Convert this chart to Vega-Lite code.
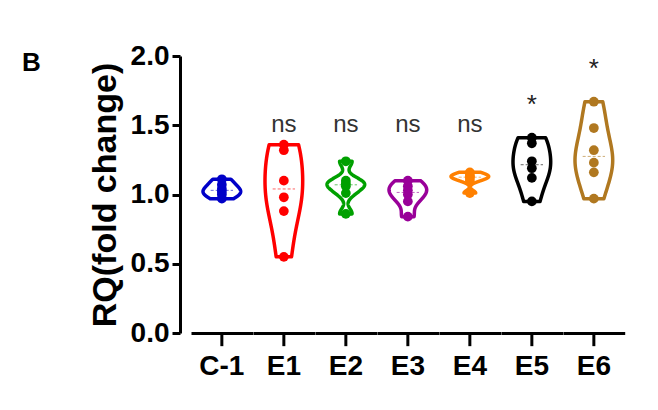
{
  "$schema": "https://vega.github.io/schema/vega-lite/v6.json",
  "background": "white",
  "padding": {"left": 22, "top": 42, "right": 5, "bottom": 5},
  "title": {"text": "B", "anchor": "start", "frame": "bounds", "font": "Liberation Sans", "fontSize": 26, "fontWeight": "bold", "color": "black", "dx": -66, "dy": 38},
  "data": {"values": [
    {"group": "C-1", "value": 1.11, "sig": ""},
    {"group": "C-1", "value": 1.07, "sig": ""},
    {"group": "C-1", "value": 1.04, "sig": ""},
    {"group": "C-1", "value": 1.02, "sig": ""},
    {"group": "C-1", "value": 1.00, "sig": ""},
    {"group": "C-1", "value": 0.97, "sig": ""},
    {"group": "E1", "value": 1.36, "sig": "ns"},
    {"group": "E1", "value": 1.32, "sig": "ns"},
    {"group": "E1", "value": 1.10, "sig": "ns"},
    {"group": "E1", "value": 0.98, "sig": "ns"},
    {"group": "E1", "value": 0.88, "sig": "ns"},
    {"group": "E1", "value": 0.55, "sig": "ns"},
    {"group": "E2", "value": 1.24, "sig": "ns"},
    {"group": "E2", "value": 1.10, "sig": "ns"},
    {"group": "E2", "value": 1.08, "sig": "ns"},
    {"group": "E2", "value": 1.06, "sig": "ns"},
    {"group": "E2", "value": 1.01, "sig": "ns"},
    {"group": "E2", "value": 0.86, "sig": "ns"},
    {"group": "E3", "value": 1.10, "sig": "ns"},
    {"group": "E3", "value": 1.06, "sig": "ns"},
    {"group": "E3", "value": 1.03, "sig": "ns"},
    {"group": "E3", "value": 1.00, "sig": "ns"},
    {"group": "E3", "value": 0.95, "sig": "ns"},
    {"group": "E3", "value": 0.84, "sig": "ns"},
    {"group": "E4", "value": 1.16, "sig": "ns"},
    {"group": "E4", "value": 1.14, "sig": "ns"},
    {"group": "E4", "value": 1.13, "sig": "ns"},
    {"group": "E4", "value": 1.12, "sig": "ns"},
    {"group": "E4", "value": 1.10, "sig": "ns"},
    {"group": "E4", "value": 1.01, "sig": "ns"},
    {"group": "E5", "value": 1.41, "sig": "*"},
    {"group": "E5", "value": 1.37, "sig": "*"},
    {"group": "E5", "value": 1.24, "sig": "*"},
    {"group": "E5", "value": 1.19, "sig": "*"},
    {"group": "E5", "value": 1.12, "sig": "*"},
    {"group": "E5", "value": 0.95, "sig": "*"},
    {"group": "E6", "value": 1.67, "sig": "*"},
    {"group": "E6", "value": 1.48, "sig": "*"},
    {"group": "E6", "value": 1.32, "sig": "*"},
    {"group": "E6", "value": 1.23, "sig": "*"},
    {"group": "E6", "value": 1.16, "sig": "*"},
    {"group": "E6", "value": 0.97, "sig": "*"}
  ]},
  "facet": {
    "column": {
      "field": "group", "type": "nominal",
      "sort": ["C-1", "E1", "E2", "E3", "E4", "E5", "E6"],
      "header": {"title": null, "labelOrient": "bottom", "labelFont": "Liberation Sans", "labelFontSize": 28, "labelFontWeight": "bold", "labelColor": "black", "labelPadding": 5}
    }
  },
  "spacing": 0,
  "spec": {
    "width": 61.7,
    "height": 277,
    "layer": [
      {
        "transform": [{"density": "value", "groupby": ["group"]}],
        "mark": {"type": "area", "orient": "horizontal", "fill": "white", "strokeWidth": 3.5, "strokeJoin": "round"},
        "encoding": {
          "y": {"field": "value", "type": "quantitative", "title": "RQ(fold change)",
            "scale": {"domain": [0, 2], "nice": false},
            "axis": {"values": [0, 0.5, 1, 1.5, 2], "format": ".1f", "offset": 11, "grid": false,
              "domainColor": "black", "domainWidth": 3, "tickColor": "black", "tickWidth": 3, "tickSize": 8,
              "labelFont": "Liberation Sans", "labelFontSize": 28, "labelFontWeight": "bold", "labelColor": "black", "labelPadding": 3,
              "titleFont": "Liberation Sans", "titleFontSize": 34, "titleFontWeight": "bold", "titleColor": "black", "titlePadding": 8}},
          "x": {"field": "density", "type": "quantitative", "stack": "center", "impute": null, "title": null,
            "scale": {"zero": false, "nice": false, "padding": 12},
            "axis": {"labels": false, "ticks": false, "grid": false, "domain": true, "domainColor": "black", "domainWidth": 3}},
          "stroke": {"field": "group", "type": "nominal", "legend": null,
            "scale": {"domain": ["C-1", "E1", "E2", "E3", "E4", "E5", "E6"], "range": ["#0000C8", "#FF0000", "#00A000", "#990099", "#FF8000", "#000000", "#B07820"]}}
        }
      },
      {
        "transform": [{"aggregate": [{"op": "count", "as": "n"}], "groupby": ["group"]}],
        "mark": {"type": "rule", "color": "black", "strokeWidth": 3},
        "encoding": {
          "y": {"datum": 0, "title": "RQ(fold change)"},
          "y2": {"datum": -0.095}
        }
      },
      {
        "transform": [{"aggregate": [{"op": "median", "field": "value", "as": "med"}], "groupby": ["group"]}],
        "mark": {"type": "point", "shape": "stroke", "size": 500, "strokeWidth": 1, "strokeDash": [3, 2], "opacity": 0.6},
        "encoding": {
          "y": {"field": "med", "type": "quantitative", "title": "RQ(fold change)"},
          "color": {"field": "group", "type": "nominal", "legend": null,
            "scale": {"domain": ["C-1", "E1", "E2", "E3", "E4", "E5", "E6"], "range": ["#0000C8", "#FF0000", "#00A000", "#990099", "#FF8000", "#000000", "#B07820"]}}
        }
      },
      {
        "mark": {"type": "circle", "size": 95, "opacity": 1},
        "encoding": {
          "y": {"field": "value", "type": "quantitative", "title": "RQ(fold change)"},
          "color": {"field": "group", "type": "nominal", "legend": null,
            "scale": {"domain": ["C-1", "E1", "E2", "E3", "E4", "E5", "E6"], "range": ["#0000C8", "#FF0000", "#00A000", "#990099", "#FF8000", "#000000", "#B07820"]}}
        }
      },
      {
        "transform": [
          {"filter": "datum.sig === 'ns'"},
          {"aggregate": [{"op": "max", "field": "value", "as": "vmax"}], "groupby": ["group", "sig"]}
        ],
        "mark": {"type": "text", "font": "Liberation Sans", "fontSize": 24, "color": "#333333", "baseline": "alphabetic"},
        "encoding": {
          "y": {"datum": 1.45, "title": "RQ(fold change)"},
          "text": {"field": "sig", "type": "nominal"}
        }
      },
      {
        "transform": [
          {"filter": "datum.sig === '*'"},
          {"aggregate": [{"op": "max", "field": "value", "as": "vmax"}], "groupby": ["group", "sig"]}
        ],
        "mark": {"type": "text", "font": "Liberation Sans", "fontSize": 26, "color": "#222222", "baseline": "alphabetic", "dy": -25},
        "encoding": {
          "y": {"field": "vmax", "type": "quantitative", "title": "RQ(fold change)"},
          "text": {"field": "sig", "type": "nominal"}
        }
      }
    ]
  },
  "resolve": {"scale": {"x": "independent"}},
  "config": {"view": {"stroke": null}, "axis": {"grid": false}}
}
